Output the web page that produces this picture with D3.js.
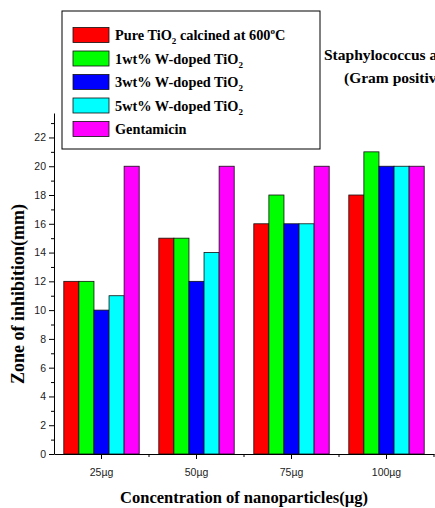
<!DOCTYPE html>
<html lang="en">
<head>
<meta charset="UTF-8">
<title>Zone of inhibition bar chart</title>
<script src="https://d3js.org/d3.v7.min.js"></script>
<style>
    body { margin: 0; background: #fff; }
    .tick text { font-family: "Liberation Sans", Arial, sans-serif; font-size: 10.5px; fill: #222; }
    .lbl { font-family: "Liberation Serif", "Times New Roman", serif; font-weight: bold; fill: #000; }
</style>
</head>
<body>
<div id="chart"></div>
<script>
// data
const doses = ["25µg", "50µg", "75µg", "100µg"];
const seriesNames = ["Pure TiO2 calcined at 600C", "1wt% W-doped TiO2", "3wt% W-doped TiO2", "5wt% W-doped TiO2", "Gentamicin"];
const seriesColors = ["#ff0000", "#00ff00", "#0000ff", "#00ffff", "#ff00ff"];
const pureTiO2 = [12, 15, 16, 18];
const w1 = [12, 15, 18, 21];
const w3 = [10, 12, 16, 20];
const w5 = [11, 14, 16, 20];
const gentamicin = [20, 20, 20, 20];
const yTicks = [0, 2, 4, 6, 8, 10, 12, 14, 16, 18, 20, 22];

const allSeries = [pureTiO2, w1, w3, w5, gentamicin];

const W = 435, H = 508;
const margin = { left: 54, right: 1, top: 113, bottom: 54 };

const svg = d3.select("#chart").append("svg")
    .attr("width", W).attr("height", H);

const x = d3.scaleBand().domain(doses).range([margin.left, 434]).padding(0);
const xs = d3.scaleBand().domain(d3.range(5)).range([0, x.bandwidth()]).paddingOuter(0.65).paddingInner(0);
const y = d3.scaleLinear().domain([0, 23.7]).range([H - margin.bottom, margin.top]);

// bars
doses.forEach((d, i) => {
    const g = svg.append("g").attr("transform", "translate(" + x(d) + ",0)");
    g.selectAll("rect")
        .data(allSeries.map((s, k) => ({ k: k, v: s[i] })))
        .enter().append("rect")
        .attr("x", e => xs(e.k))
        .attr("y", e => y(e.v))
        .attr("width", xs.bandwidth())
        .attr("height", e => y(0) - y(e.v))
        .attr("fill", e => seriesColors[e.k])
        .attr("stroke", "#111")
        .attr("stroke-width", 0.8);
});

// y axis (major + minor ticks)
svg.append("g")
    .attr("transform", "translate(" + margin.left + ",0)")
    .call(d3.axisLeft(y).tickValues(d3.range(1, 24, 2)).tickSize(3).tickFormat(""))
    .call(g => g.select(".domain").remove());
svg.append("g")
    .attr("transform", "translate(" + margin.left + ",0)")
    .call(d3.axisLeft(y).tickValues(yTicks).tickSize(5).tickSizeOuter(0).tickPadding(3))
    .call(g => g.selectAll("line, path").attr("stroke", "#000"));

// x axis
const xAxis = svg.append("g")
    .attr("transform", "translate(0," + y(0) + ")")
    .call(d3.axisBottom(x).tickSize(5).tickSizeOuter(0).tickPadding(10))
    .call(g => g.selectAll("line, path").attr("stroke", "#000"));
// minor ticks at band edges
xAxis.selectAll(".edge")
    .data(doses.slice(1).concat(["end"]))
    .enter().append("line")
    .attr("x1", d => d === "end" ? x.range()[1] : x(d))
    .attr("x2", d => d === "end" ? x.range()[1] : x(d))
    .attr("y1", 0).attr("y2", 3)
    .attr("stroke", "#000");

// axis titles
svg.append("text").attr("class", "lbl")
    .attr("transform", "translate(24,294) rotate(-90)")
    .attr("text-anchor", "middle")
    .style("font-size", "18px")
    .text("Zone of inhibition(mm)");
svg.append("text").attr("class", "lbl")
    .attr("x", 244).attr("y", 503)
    .attr("text-anchor", "middle")
    .style("font-size", "16.5px")
    .text("Concentration of nanoparticles(µg)");

// title (runs off the right edge, as in the original)
svg.append("text").attr("class", "lbl")
    .attr("x", 324).attr("y", 60).style("font-size", "15.5px")
    .text("Staphylococcus aureus");
svg.append("text").attr("class", "lbl")
    .attr("x", 344).attr("y", 83).style("font-size", "15.5px")
    .text("(Gram positive)");

// legend
const legend = svg.append("g");
legend.append("rect")
    .attr("x", 62).attr("y", 11).attr("width", 258).attr("height", 138)
    .attr("fill", "#fff").attr("stroke", "#000").attr("stroke-width", 1);

const rowY = d3.scalePoint().domain(d3.range(5)).range([35, 129]);
const rows = legend.selectAll(".row").data(seriesNames).enter().append("g")
    .attr("transform", (d, i) => "translate(0," + rowY(i) + ")");
rows.append("rect")
    .attr("x", 73).attr("y", -7.5).attr("width", 36).attr("height", 15)
    .attr("fill", (d, i) => seriesColors[i])
    .attr("stroke", "#111").attr("stroke-width", 0.8);
rows.each(function (d) {
    const t = d3.select(this).append("text").attr("class", "lbl")
        .attr("x", 115).attr("y", 5).style("font-size", "14.3px");
    const m = d.match(/^(.*?TiO)2(.*)$/);
    if (!m) { t.text(d); return; }
    t.append("tspan").text(m[1]);
    t.append("tspan").attr("dy", 4).style("font-size", "9px").text("2");
    if (m[2].indexOf("600C") >= 0) {
        t.append("tspan").attr("dy", -4).text(m[2].replace("600C", "600"));
        t.append("tspan").attr("dy", -6).style("font-size", "9px").text("o");
        t.append("tspan").attr("dy", 6).text("C");
    }
});
</script>
</body>
</html>
